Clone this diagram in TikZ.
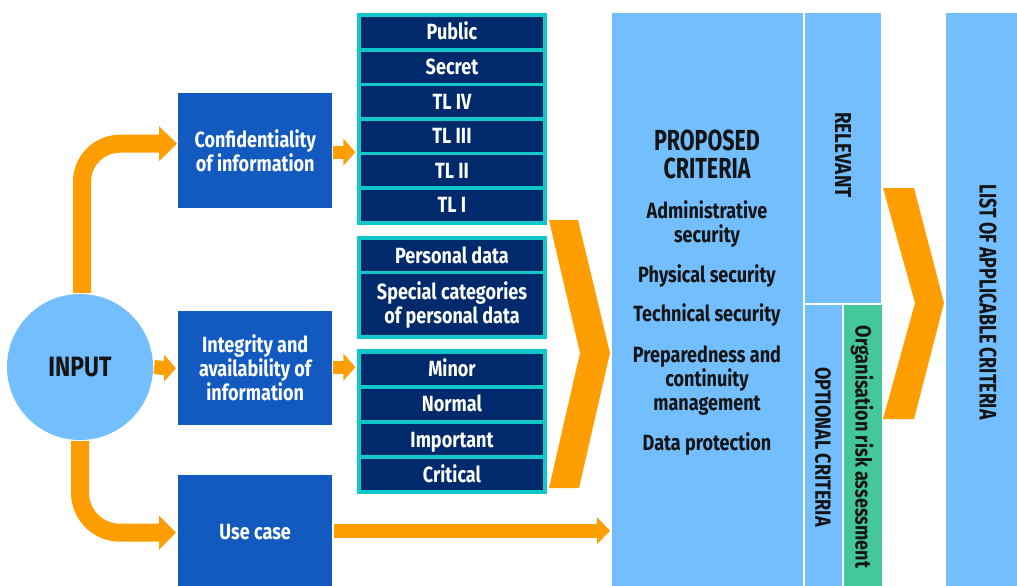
\documentclass[tikz,border=0pt]{standalone}
\usepackage{fontspec}
\setmainfont{Fira Sans}[FakeStretch=0.82]
\newfontfamily\capsfont{Fira Sans}[FakeStretch=0.74]
\usetikzlibrary{calc}
\definecolor{skyc}{HTML}{73BEFF}
\definecolor{boxc}{HTML}{125AC0}
\definecolor{navyc}{HTML}{002A6C}
\definecolor{tealc}{HTML}{10C8C8}
\definecolor{orangec}{HTML}{FF9E00}
\definecolor{greenc}{HTML}{44C799}
\definecolor{inkc}{HTML}{141414}
\begin{document}
\begin{tikzpicture}[x=1pt,y=-1pt,
  txt/.style={font=\fontsize{22}{24}\selectfont\bfseries, align=center, inner sep=0pt},
  bluebox/.style={txt, fill=boxc, text=white, minimum width=154pt, anchor=north west},
  cell/.style={txt, fill=navyc, text=white, minimum width=182pt, minimum height=31pt,
               text height=15pt, text depth=0pt},
  tallcell/.style={txt, fill=navyc, text=white, minimum width=182pt, minimum height=61pt},
  stackframe/.style={fill=tealc},
  panel/.style={fill=skyc, inner sep=0pt, anchor=north west},
  orangestem/.style={draw=orangec, line width=#1, line cap=butt},
  tiphead/.style={fill=orangec},
  item/.style={txt, text=inkc},
  vtext/.style={txt, text=inkc, rotate=-90, font=\fontsize{23}{24}\selectfont\bfseries}
]
\useasboundingbox (0,0) rectangle (1017,586);
\fill[white] (0,0) rectangle (1017,586);

% --- right-hand panels ---
\node[panel, minimum width=191pt, minimum height=575pt] (propbox) at (612,13) {};
\node[panel, minimum width=76pt, minimum height=290pt] (relbox) at (805,13) {};
\node[panel, minimum width=37pt, minimum height=283pt] (optbox) at (805,305) {};
\node[panel, fill=greenc, minimum width=38pt, minimum height=283pt] (riskbox) at (844,305) {};
\node[panel, minimum width=72pt, minimum height=575pt] (listbox) at (946,13) {};

\node[item, font=\fontsize{29}{28}\selectfont\capsfont\bfseries] (proposed) at (707,154) {PROPOSED\\CRITERIA};
\node[item] (admin) at (707,224) {Administrative\\security};
\node[item] (phys) at (707,276) {Physical security};
\node[item] (tech) at (707,315) {Technical security};
\node[item] (prep) at (707,381) {Preparedness and\\continuity\\management};
\node[item] (data) at (707,444) {Data protection};

\node[vtext] at (843,155) {RELEVANT};
\node[vtext, font=\fontsize{22}{24}\selectfont\bfseries] at (823,447) {OPTIONAL CRITERIA};
\node[vtext, font=\fontsize{22}{24}\selectfont\bfseries] at (862,447) {Organisation risk assessment};
\node[vtext, font=\fontsize{24}{24}\selectfont\capsfont\bfseries] at (988,302) {LIST OF APPLICABLE CRITERIA};

% --- classification stacks ---
\fill[stackframe] (357,13) rectangle (547,225);
\node[cell] (public) at (452,32.5) {Public};
\node[cell] (secret) at (452,67.1) {Secret};
\node[cell] (tl4) at (452,101.7) {TL IV};
\node[cell] (tl3) at (452,136.3) {TL III};
\node[cell] (tl2) at (452,170.9) {TL II};
\node[cell] (tl1) at (452,205.4) {TL I};

\fill[stackframe] (357,236) rectangle (547,339);
\node[cell] (personal) at (452,255.5) {Personal data};
\node[tallcell] (special) at (452,304.8) {Special categories\\of personal data};

\fill[stackframe] (357,349) rectangle (547,494);
\node[cell] (minor) at (452,369) {Minor};
\node[cell] (normal) at (452,404.3) {Normal};
\node[cell] (important) at (452,439.5) {Important};
\node[cell] (critical) at (452,474.5) {Critical};

% --- chevrons ---
\fill[orangec] (549,220) -- (578,220) -- (610,353) -- (579,488) -- (549,488) -- (580,353) -- cycle;
\fill[orangec] (883,188) -- (914,188) -- (944,303) -- (914,419) -- (883,419) -- (915,303) -- cycle;

% --- input circle and boxes ---
\node[txt, circle, fill=skyc, text=inkc, minimum size=146pt,
      font=\fontsize{28}{28}\selectfont\bfseries] (input) at (80,367) {INPUT};
\node[bluebox, minimum height=115pt] (conf) at (178,93) {Confidentiality\\of information};
\node[bluebox, minimum height=114pt] (integ) at (178,311) {Integrity and\\availability of\\information};
\node[bluebox, minimum height=113pt] (usecase) at (178,475) {Use case};

% --- bent arrows out of the input circle ---
\draw[orangestem=18pt, rounded corners=38pt] ($(input.north)+(2,-1)$) |- ($(conf.west)+(-18,-7)$);
\fill[tiphead] ($(conf.west)+(-19,-24.5)$) -- ($(conf.west)+(-1,-7)$) -- ($(conf.west)+(-19,10.5)$) -- cycle;
\draw[orangestem=18pt, rounded corners=40pt] ($(input.south)+(0,1)$) |- ($(usecase.west)+(-18,1)$);
\fill[tiphead] ($(usecase.west)+(-19,-16)$) -- ($(usecase.west)+(-2,1)$) -- ($(usecase.west)+(-19,18)$) -- cycle;

% --- straight arrows ---
\draw[orangestem=14pt] ($(input.east)+(1,0)$) -- ($(integ.west)+(-13,0)$);
\fill[tiphead] ($(integ.west)+(-14,-13.5)$) -- ($(integ.west)+(-2,0)$) -- ($(integ.west)+(-14,13.5)$) -- cycle;

\draw[orangestem=13pt] ($(conf.east)+(1,1.5)$) -- ($(conf.east)+(12,1.5)$);
\fill[tiphead] ($(conf.east)+(11,-12)$) -- ($(conf.east)+(23,1.5)$) -- ($(conf.east)+(11,15)$) -- cycle;

\draw[orangestem=13pt] ($(integ.east)+(1,-1)$) -- ($(integ.east)+(12,-1)$);
\fill[tiphead] ($(integ.east)+(11,-14.5)$) -- ($(integ.east)+(23,-1)$) -- ($(integ.east)+(11,12.5)$) -- cycle;

\draw[orangestem=14pt] ($(usecase.east)+(2,-1)$) -- ($(propbox.west |- usecase.east)+(-14,-1)$);
\fill[tiphead] ($(propbox.west |- usecase.east)+(-15,-14.5)$) -- ($(propbox.west |- usecase.east)+(-2,-1)$)
  -- ($(propbox.west |- usecase.east)+(-15,12.5)$) -- cycle;
\end{tikzpicture}
\end{document}
